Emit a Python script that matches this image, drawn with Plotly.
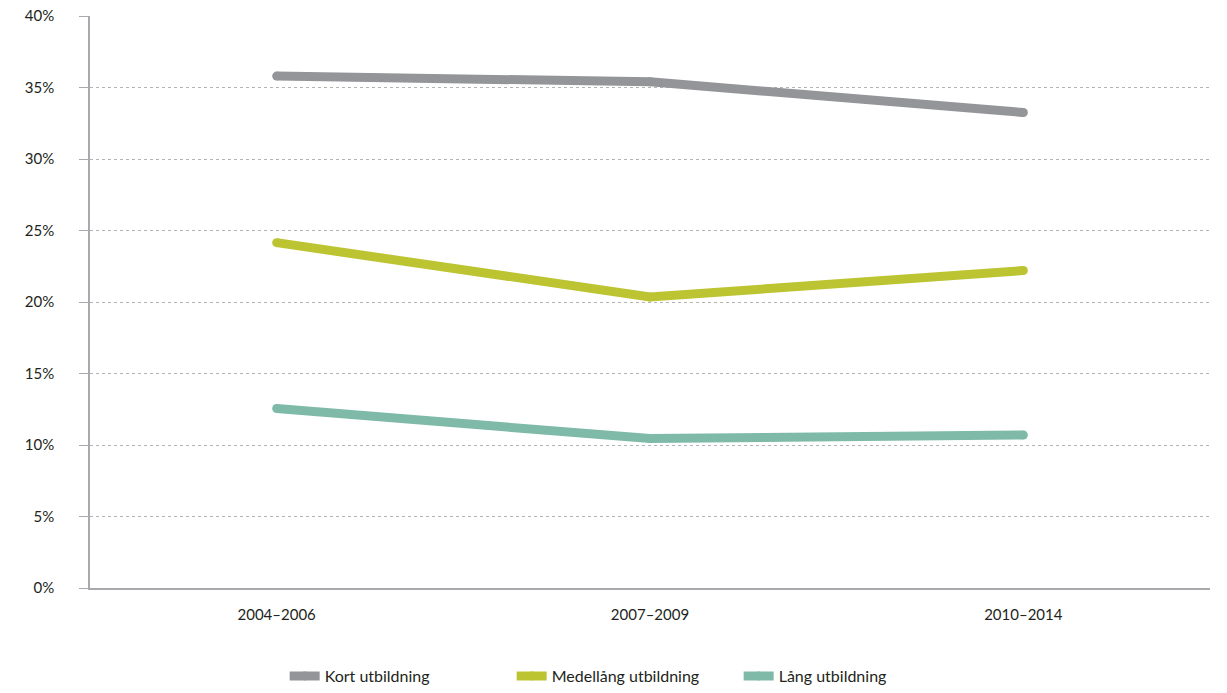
import plotly.graph_objects as go

periods = ["2004–2006", "2007–2009", "2010–2014"]
kort = [35.8, 35.4, 33.25]
medellang = [24.15, 20.35, 22.2]
lang = [12.55, 10.45, 10.7]

series = [
    ("Kort utbildning", kort, "#939598"),
    ("Medellång utbildning", medellang, "#bdc431"),
    ("Lång utbildning", lang, "#7fbaa9"),
]

fig = go.Figure()
for name, vals, color in series:
    fig.add_trace(
        go.Scatter(
            x=periods,
            y=vals,
            name=name,
            mode="lines+markers",
            line=dict(color=color, width=9),
            marker=dict(color=color, size=9),
            hoverinfo="skip",
        )
    )

axis_grey = "#a7a9ac"
fig.update_layout(
    width=1227,
    height=693,
    margin=dict(l=90, r=17, t=16, b=105, autoexpand=False),
    paper_bgcolor="white",
    plot_bgcolor="white",
    font=dict(family="Lato, sans-serif", size=15, color="#231f20"),
    showlegend=True,
    legend=dict(
        orientation="h",
        xref="container",
        x=0.232,
        xanchor="left",
        yref="container",
        y=-0.013,
        yanchor="bottom",
        font=dict(size=16),
        itemwidth=30,
        entrywidth=182,
    ),
    xaxis=dict(
        range=[-0.5, 2.5],
        showgrid=False,
        zeroline=False,
        showline=True,
        linecolor=axis_grey,
        linewidth=1.5,
        ticks="",
        ticklabelstandoff=12,
        automargin=False,
    ),
    yaxis=dict(
        range=[0, 40],
        dtick=5,
        ticksuffix="%",
        showgrid=True,
        gridcolor="#b3b3b3",
        griddash="dot",
        gridwidth=1,
        zeroline=False,
        showline=True,
        linecolor=axis_grey,
        linewidth=1.5,
        ticks="outside",
        ticklen=9,
        tickcolor=axis_grey,
        ticklabelstandoff=22,
        ticklabeloverflow="allow",
        automargin=False,
    ),
)

# drop the browser's default 8px body margin so the figure sits at the page corner
fig.write_html(
    "out.html",
    config={"displayModeBar": False},
    post_script="document.body.style.margin='0';",
)
